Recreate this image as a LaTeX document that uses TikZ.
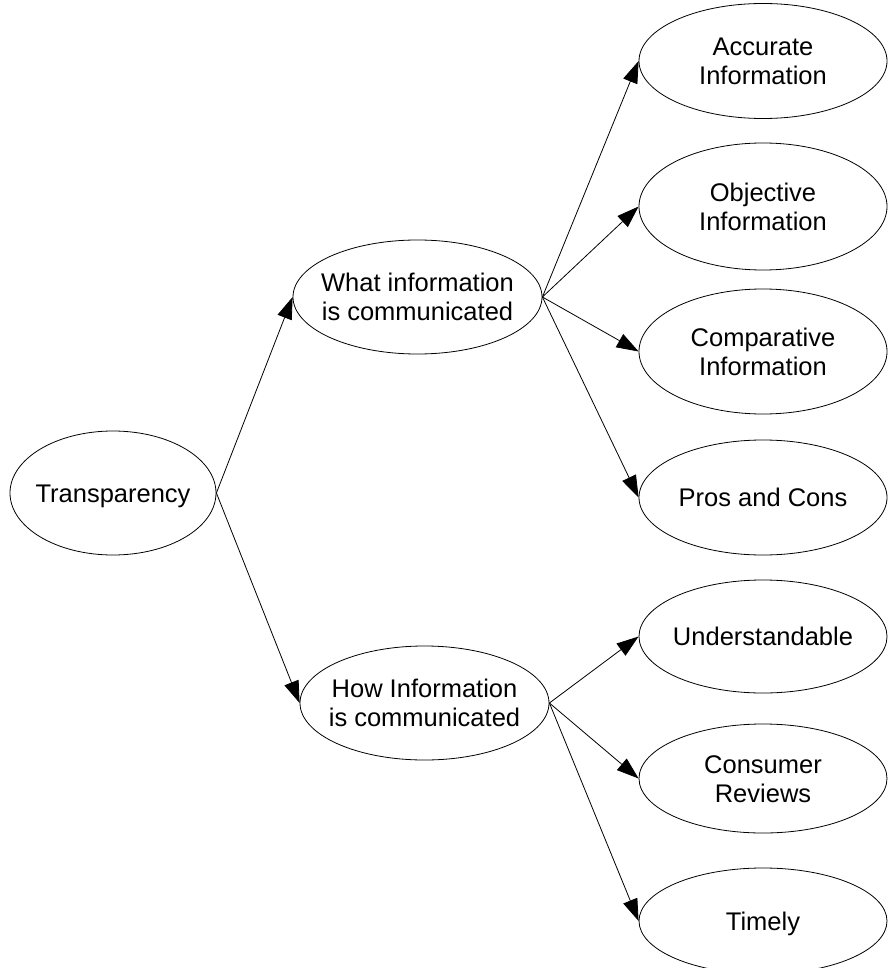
\documentclass[tikz,border=0pt]{standalone}
\usepackage{fontspec}
\setmainfont{Liberation Sans}
\usetikzlibrary{shapes.geometric,arrows.meta}

% label text that does not widen the surrounding ellipse; the strut in the
% first row lowers the lines slightly inside the bubble
\newcommand{\bubbletext}[1]{\makebox[0pt]{\begin{tabular}{@{}c@{}}\rule{0pt}{27.3pt}#1\end{tabular}}}

\begin{document}
\begin{tikzpicture}[x=1pt,y=-1pt,
  bubble/.style={ellipse,draw,line width=0.8pt,inner sep=0pt,
    font=\fontsize{25.5}{29}\selectfont},
  root/.style={bubble,minimum width=206pt,minimum height=124pt},
  mid/.style={bubble,minimum width=249pt,minimum height=114pt},
  leaf/.style={bubble,minimum width=248pt},
  link/.style={line width=0.8pt,-{Triangle[length=22pt,width=15pt]}}]
  \useasboundingbox (0,0) rectangle (888,968);

  % root and the two branches
  \node[root] (trans) at (113,493) {\bubbletext{Transparency}};
  \node[mid] (what) at (417.5,297) {\bubbletext{What information\\is communicated}};
  \node[mid] (how) at (424.5,703) {\bubbletext{How Information\\is communicated}};

  % what is communicated
  \node[leaf,minimum height=115pt] (acc) at (763,61) {\bubbletext{Accurate\\Information}};
  \node[leaf,minimum height=127pt] (obj) at (763,206.5) {\bubbletext{Objective\\Information}};
  \node[leaf,minimum height=125pt] (comp) at (763,351.5) {\bubbletext{Comparative\\Information}};
  \node[leaf,minimum height=115pt] (pros) at (763,497.5) {\bubbletext{Pros and Cons}};

  % how it is communicated
  \node[leaf,minimum height=113pt] (und) at (763,636.5) {\bubbletext{Understandable}};
  \node[leaf,minimum height=109pt] (cons) at (763,778.5) {\bubbletext{Consumer\\Reviews}};
  \node[leaf,minimum height=106pt] (time) at (763,921) {\bubbletext{Timely}};

  % connectors
  \draw[link] (trans.east) -- (what.west);
  \draw[link] (trans.east) -- (how.west);
  \foreach \t in {acc,obj,comp,pros}
    \draw[link] (what.east) -- (\t.west);
  \foreach \t in {und,cons,time}
    \draw[link] (how.east) -- (\t.west);
\end{tikzpicture}
\end{document}
